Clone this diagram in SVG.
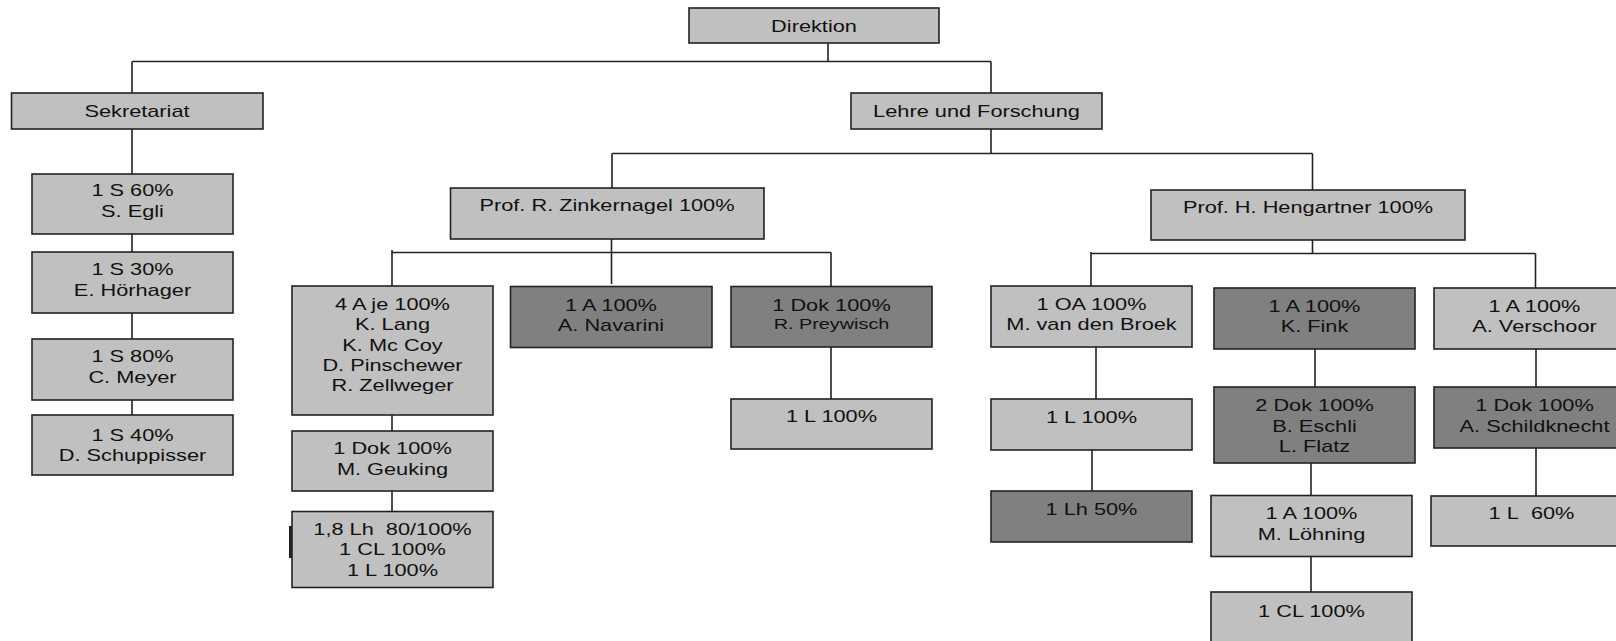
<svg xmlns="http://www.w3.org/2000/svg" width="1616" height="641" viewBox="0 0 1616 641">
<style>
.lt{fill:#c0c0c0;stroke:#222;stroke-width:1.6}
.dk{fill:#808080;stroke:#222;stroke-width:1.6}
.t{font-family:"Liberation Sans",Arial,sans-serif;font-size:17px;fill:#111;text-anchor:middle}
.sm{font-size:15.5px}
.c{fill:none;stroke:#222;stroke-width:1.6}
</style>
<rect width="1616" height="641" fill="#fff"/>
<g id="connectors" class="c">
<path d="M132,61.5H991M828,43V61.5M132,61.5V93M991,61.5V93"/>
<path d="M132,129V174M132,234V252M132,313V339M132,400V415"/>
<path d="M991,129V153.5M612,153.5H1312.5M612,153.5V188M1312.5,153.5V190"/>
<path d="M611.5,239V284M392,252.5H831M392,250V286M831,252.5V286.5M831,347V399M392,415V431M392,491V511.5"/>
<path d="M1312.5,240V253.5M1091,253.5H1535.5M1091,252V286M1535.5,253.5V288"/>
<path d="M1096,347V399M1092,450V491M1315,349V387M1311,463V495.5M1311,556.5V592M1536,349V387M1536,448V496"/>
</g>
<g id="direktion"><rect class="lt" x="689" y="8" width="250" height="35"/><text class="t" transform="matrix(1.28 0 0 1 814 0)"><tspan x="0" y="32">Direktion</tspan></text></g>
<g id="sekretariat"><rect class="lt" x="11.5" y="93" width="251.5" height="36"/><text class="t" transform="matrix(1.28 0 0 1 137 0)"><tspan x="0" y="117">Sekretariat</tspan></text></g>
<g id="lehre"><rect class="lt" x="851" y="93" width="251" height="36"/><text class="t" transform="matrix(1.28 0 0 1 976.5 0)"><tspan x="0" y="117">Lehre und Forschung</tspan></text></g>
<g id="s60"><rect class="lt" x="32" y="174" width="201" height="60"/><text class="t" transform="matrix(1.28 0 0 1 132.5 0)"><tspan x="0" y="196.5">1 S 60%</tspan><tspan x="0" y="217.5">S. Egli</tspan></text></g>
<g id="s30"><rect class="lt" x="32" y="252" width="201" height="61"/><text class="t" transform="matrix(1.28 0 0 1 132.5 0)"><tspan x="0" y="275.5">1 S 30%</tspan><tspan x="0" y="296">E. Hörhager</tspan></text></g>
<g id="s80"><rect class="lt" x="32" y="339" width="201" height="61"/><text class="t" transform="matrix(1.28 0 0 1 132.5 0)"><tspan x="0" y="362.5">1 S 80%</tspan><tspan x="0" y="383">C. Meyer</tspan></text></g>
<g id="s40"><rect class="lt" x="32" y="415" width="201" height="60"/><text class="t" transform="matrix(1.28 0 0 1 132.5 0)"><tspan x="0" y="441">1 S 40%</tspan><tspan x="0" y="461">D. Schuppisser</tspan></text></g>
<g id="zinkernagel"><rect class="lt" x="450.5" y="188" width="313.5" height="51"/><text class="t" transform="matrix(1.28 0 0 1 607 0)"><tspan x="0" y="211.5">Prof. R. Zinkernagel 100%</tspan></text></g>
<g id="hengartner"><rect class="lt" x="1151" y="190" width="314" height="50"/><text class="t" transform="matrix(1.28 0 0 1 1308 0)"><tspan x="0" y="213">Prof. H. Hengartner 100%</tspan></text></g>
<g id="assistenten"><rect class="lt" x="292" y="286" width="201" height="129"/><text class="t" transform="matrix(1.28 0 0 1 392.5 0)"><tspan x="0" y="310">4 A je 100%</tspan><tspan x="0" y="330.5">K. Lang</tspan><tspan x="0" y="351">K. Mc Coy</tspan><tspan x="0" y="371">D. Pinschewer</tspan><tspan x="0" y="391.5">R. Zellweger</tspan></text></g>
<g id="geuking"><rect class="lt" x="292" y="431" width="201" height="60"/><text class="t" transform="matrix(1.28 0 0 1 392.5 0)"><tspan x="0" y="454.5">1 Dok 100%</tspan><tspan x="0" y="475">M. Geuking</tspan></text></g>
<g id="laboranten-z"><rect class="lt" x="292" y="511.5" width="201" height="76"/><path d="M290.5,526V558" fill="none" stroke="#222" stroke-width="3"/><text class="t" transform="matrix(1.28 0 0 1 392.5 0)"><tspan x="0" y="535">1,8 Lh&#160; 80/100%</tspan><tspan x="0" y="555.5">1 CL 100%</tspan><tspan x="0" y="576">1 L 100%</tspan></text></g>
<g id="navarini"><rect class="dk" x="510.5" y="286.5" width="201.5" height="61"/><text class="t" transform="matrix(1.28 0 0 1 611 0)"><tspan x="0" y="311">1 A 100%</tspan><tspan x="0" y="331">A. Navarini</tspan></text></g>
<g id="preywisch"><rect class="dk" x="731" y="286.5" width="201" height="60.5"/><text class="t" transform="matrix(1.28 0 0 1 831.5 0)"><tspan x="0" y="311">1 Dok 100%</tspan><tspan class="sm" x="0" y="329">R. Preywisch</tspan></text></g>
<g id="laborant-z"><rect class="lt" x="731" y="399" width="201" height="50"/><text class="t" transform="matrix(1.28 0 0 1 831.5 0)"><tspan x="0" y="422.5">1 L 100%</tspan></text></g>
<g id="vandenbroek"><rect class="lt" x="991" y="286" width="201" height="61"/><text class="t" transform="matrix(1.28 0 0 1 1091.5 0)"><tspan x="0" y="310">1 OA 100%</tspan><tspan x="0" y="330">M. van den Broek</tspan></text></g>
<g id="laborant-h"><rect class="lt" x="991" y="399" width="201" height="51"/><text class="t" transform="matrix(1.28 0 0 1 1091.5 0)"><tspan x="0" y="423">1 L 100%</tspan></text></g>
<g id="laborhilfe-h"><rect class="dk" x="991" y="491" width="201" height="51"/><text class="t" transform="matrix(1.28 0 0 1 1091.5 0)"><tspan x="0" y="515.5">1 Lh 50%</tspan></text></g>
<g id="fink"><rect class="dk" x="1214" y="288" width="201" height="61"/><text class="t" transform="matrix(1.28 0 0 1 1314.5 0)"><tspan x="0" y="312">1 A 100%</tspan><tspan x="0" y="332">K. Fink</tspan></text></g>
<g id="doktoranden"><rect class="dk" x="1214" y="387" width="201" height="76"/><text class="t" transform="matrix(1.28 0 0 1 1314.5 0)"><tspan x="0" y="411.5">2 Dok 100%</tspan><tspan x="0" y="432">B. Eschli</tspan><tspan x="0" y="452">L. Flatz</tspan></text></g>
<g id="loehning"><rect class="lt" x="1211" y="495.5" width="201" height="61"/><text class="t" transform="matrix(1.28 0 0 1 1311.5 0)"><tspan x="0" y="519">1 A 100%</tspan><tspan x="0" y="540">M. Löhning</tspan></text></g>
<g id="cl"><rect class="lt" x="1211" y="592" width="201" height="60"/><text class="t" transform="matrix(1.28 0 0 1 1311.5 0)"><tspan x="0" y="617">1 CL 100%</tspan></text></g>
<g id="verschoor"><rect class="lt" x="1434" y="288" width="201" height="61"/><text class="t" transform="matrix(1.28 0 0 1 1534.5 0)"><tspan x="0" y="312">1 A 100%</tspan><tspan x="0" y="332">A. Verschoor</tspan></text></g>
<g id="schildknecht"><rect class="dk" x="1434" y="387" width="201" height="61"/><text class="t" transform="matrix(1.28 0 0 1 1534.5 0)"><tspan x="0" y="411.5">1 Dok 100%</tspan><tspan x="0" y="432">A. Schildknecht</tspan></text></g>
<g id="laborant-v"><rect class="lt" x="1431" y="496" width="201" height="50"/><text class="t" transform="matrix(1.28 0 0 1 1531.5 0)"><tspan x="0" y="519">1 L&#160; 60%</tspan></text></g>
</svg>
